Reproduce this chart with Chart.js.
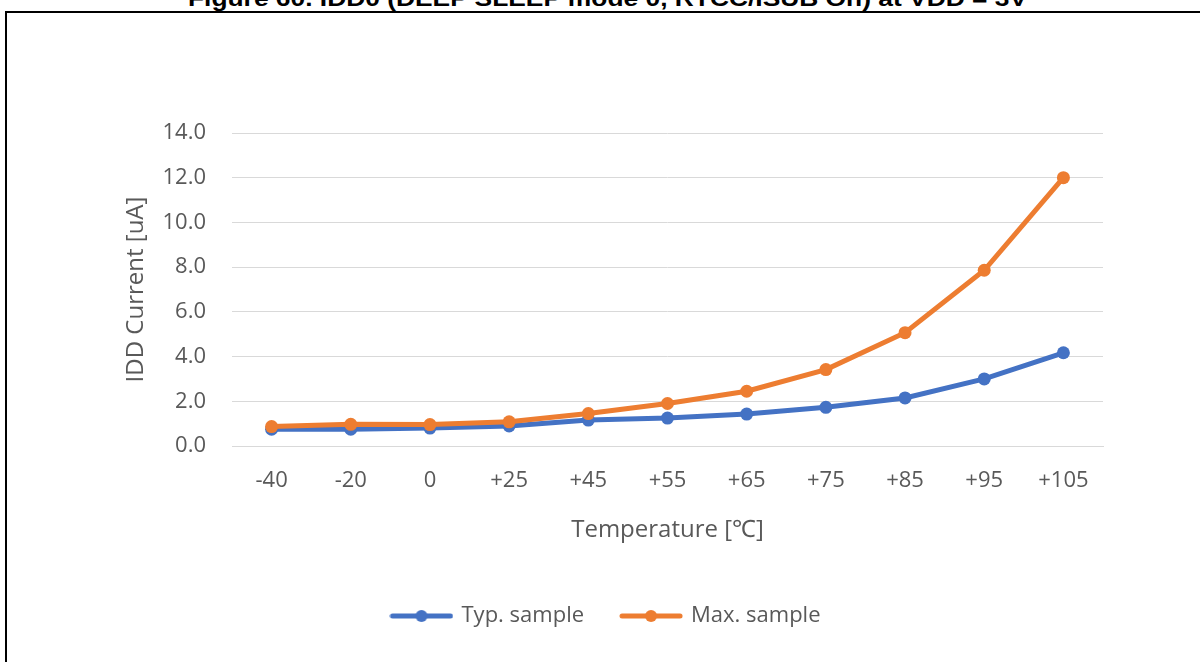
<!DOCTYPE html>
<html>
<head>
<meta charset="utf-8">
<script src="https://cdn.jsdelivr.net/npm/chart.js@4.4.1/dist/chart.umd.min.js"></script>
<style>
  html, body { margin: 0; padding: 0; background: #fff; width: 1200px; height: 662px; overflow: hidden; }
  #title { position: absolute; left: 0; top: -12px; width: 1200px; white-space: nowrap;
           font: bold 22px "Liberation Sans", Arial, sans-serif; line-height: 22px; color: #000; }
  #title span { display: inline-block; transform-origin: 0 0; }
  #frame { position: absolute; left: 5px; top: 11px; width: 1300px; height: 800px;
           border: 2px solid #000; box-sizing: border-box; }
  #wrap { position: absolute; left: 0; top: 0; width: 1200px; height: 662px; }
</style>
</head>
<body>
<div id="frame"></div>
<div id="title"><span id="titleText">Figure 60. IDD0 (DEEP SLEEP mode 0, RTCC/ISUB On) at VDD = 3V</span></div>
<div id="wrap"><canvas id="chart" width="1200" height="662"></canvas></div>
<script>
const categories = ['-40', '-20', '0', '+25', '+45', '+55', '+65', '+75', '+85', '+95', '+105'];
const typSample = [0.75, 0.75, 0.80, 0.90, 1.16, 1.25, 1.43, 1.73, 2.15, 3.00, 4.17];
const maxSample = [0.87, 0.97, 0.96, 1.08, 1.45, 1.90, 2.45, 3.42, 5.07, 7.86, 12.00];
const yMin = 0, yMax = 14, yStep = 2;
const seriesNames = ['Typ. sample', 'Max. sample'];

const textColor = '#595959';
const fontFamily = '"Open Sans", "Noto Sans", sans-serif';

// squeeze the figure caption to the width it has in the original
const titleSpan = document.getElementById('titleText');
const titleWidth = 839, titleLeft = 188;
const sx = titleWidth / titleSpan.getBoundingClientRect().width;
titleSpan.style.transform = `scaleX(${sx})`;
titleSpan.style.marginLeft = titleLeft + 'px';

// small line-with-dot icon used for legend entries
function legendIcon(color) {
  const c = document.createElement('canvas');
  c.width = 64; c.height = 16;
  const g = c.getContext('2d');
  g.strokeStyle = color; g.lineWidth = 5; g.lineCap = 'round';
  g.beginPath(); g.moveTo(3, 8); g.lineTo(61, 8); g.stroke();
  g.fillStyle = color;
  g.beginPath(); g.arc(32, 8, 6, 0, Math.PI * 2); g.fill();
  return c;
}

const colors = ['#4472C4', '#ED7D31'];

new Chart(document.getElementById('chart'), {
  type: 'line',
  data: {
    labels: categories,
    datasets: [
      { label: seriesNames[0], data: typSample, borderColor: colors[0], backgroundColor: colors[0],
        borderWidth: 5, pointRadius: 6.5, pointBorderWidth: 0, pointBackgroundColor: colors[0],
        tension: 0, order: 1 },
      { label: seriesNames[1], data: maxSample, borderColor: colors[1], backgroundColor: colors[1],
        borderWidth: 5, pointRadius: 6.5, pointBorderWidth: 0, pointBackgroundColor: colors[1],
        tension: 0, order: 0 }
    ]
  },
  options: {
    responsive: false,
    animation: false,
    layout: { padding: { left: 110, right: 97, top: 133, bottom: 25 } },
    scales: {
      x: {
        offset: true,
        grid: { display: false, drawTicks: false },
        border: { display: true, color: '#d9d9d9', width: 1 },
        ticks: { color: textColor, font: { family: fontFamily, size: 22 }, padding: 22, maxRotation: 0 },
        title: { display: true, text: 'Temperature [℃]', color: textColor,
                 font: { family: fontFamily, size: 24 }, padding: { top: 0, bottom: 22 } },
        afterFit: s => { s.height = 121; }
      },
      y: {
        min: yMin, max: yMax,
        grid: { color: '#d9d9d9', lineWidth: 1, drawTicks: false },
        border: { display: false },
        ticks: { stepSize: yStep, color: textColor, font: { family: fontFamily, size: 22 }, padding: 26,
                 callback: v => v.toFixed(1) },
        title: { display: true, text: 'IDD Current [uA]', color: textColor,
                 font: { family: fontFamily, size: 24 }, padding: { top: 12, bottom: 0 } },
        afterFit: s => { s.width = 122; }
      }
    },
    plugins: {
      tooltip: { enabled: false },
      legend: {
        position: 'bottom',
        labels: {
          usePointStyle: true,
          pointStyleWidth: 58,
          padding: 38,
          color: textColor,
          font: { family: fontFamily, size: 22 },
          generateLabels: chart => chart.data.datasets.map((ds, i) => ({
            text: ds.label,
            fillStyle: ds.borderColor,
            strokeStyle: ds.borderColor,
            lineWidth: 0,
            pointStyle: legendIcon(ds.borderColor),
            fontColor: textColor,
            hidden: false,
            datasetIndex: i
          }))
        }
      }
    }
  }
});
</script>
</body>
</html>
